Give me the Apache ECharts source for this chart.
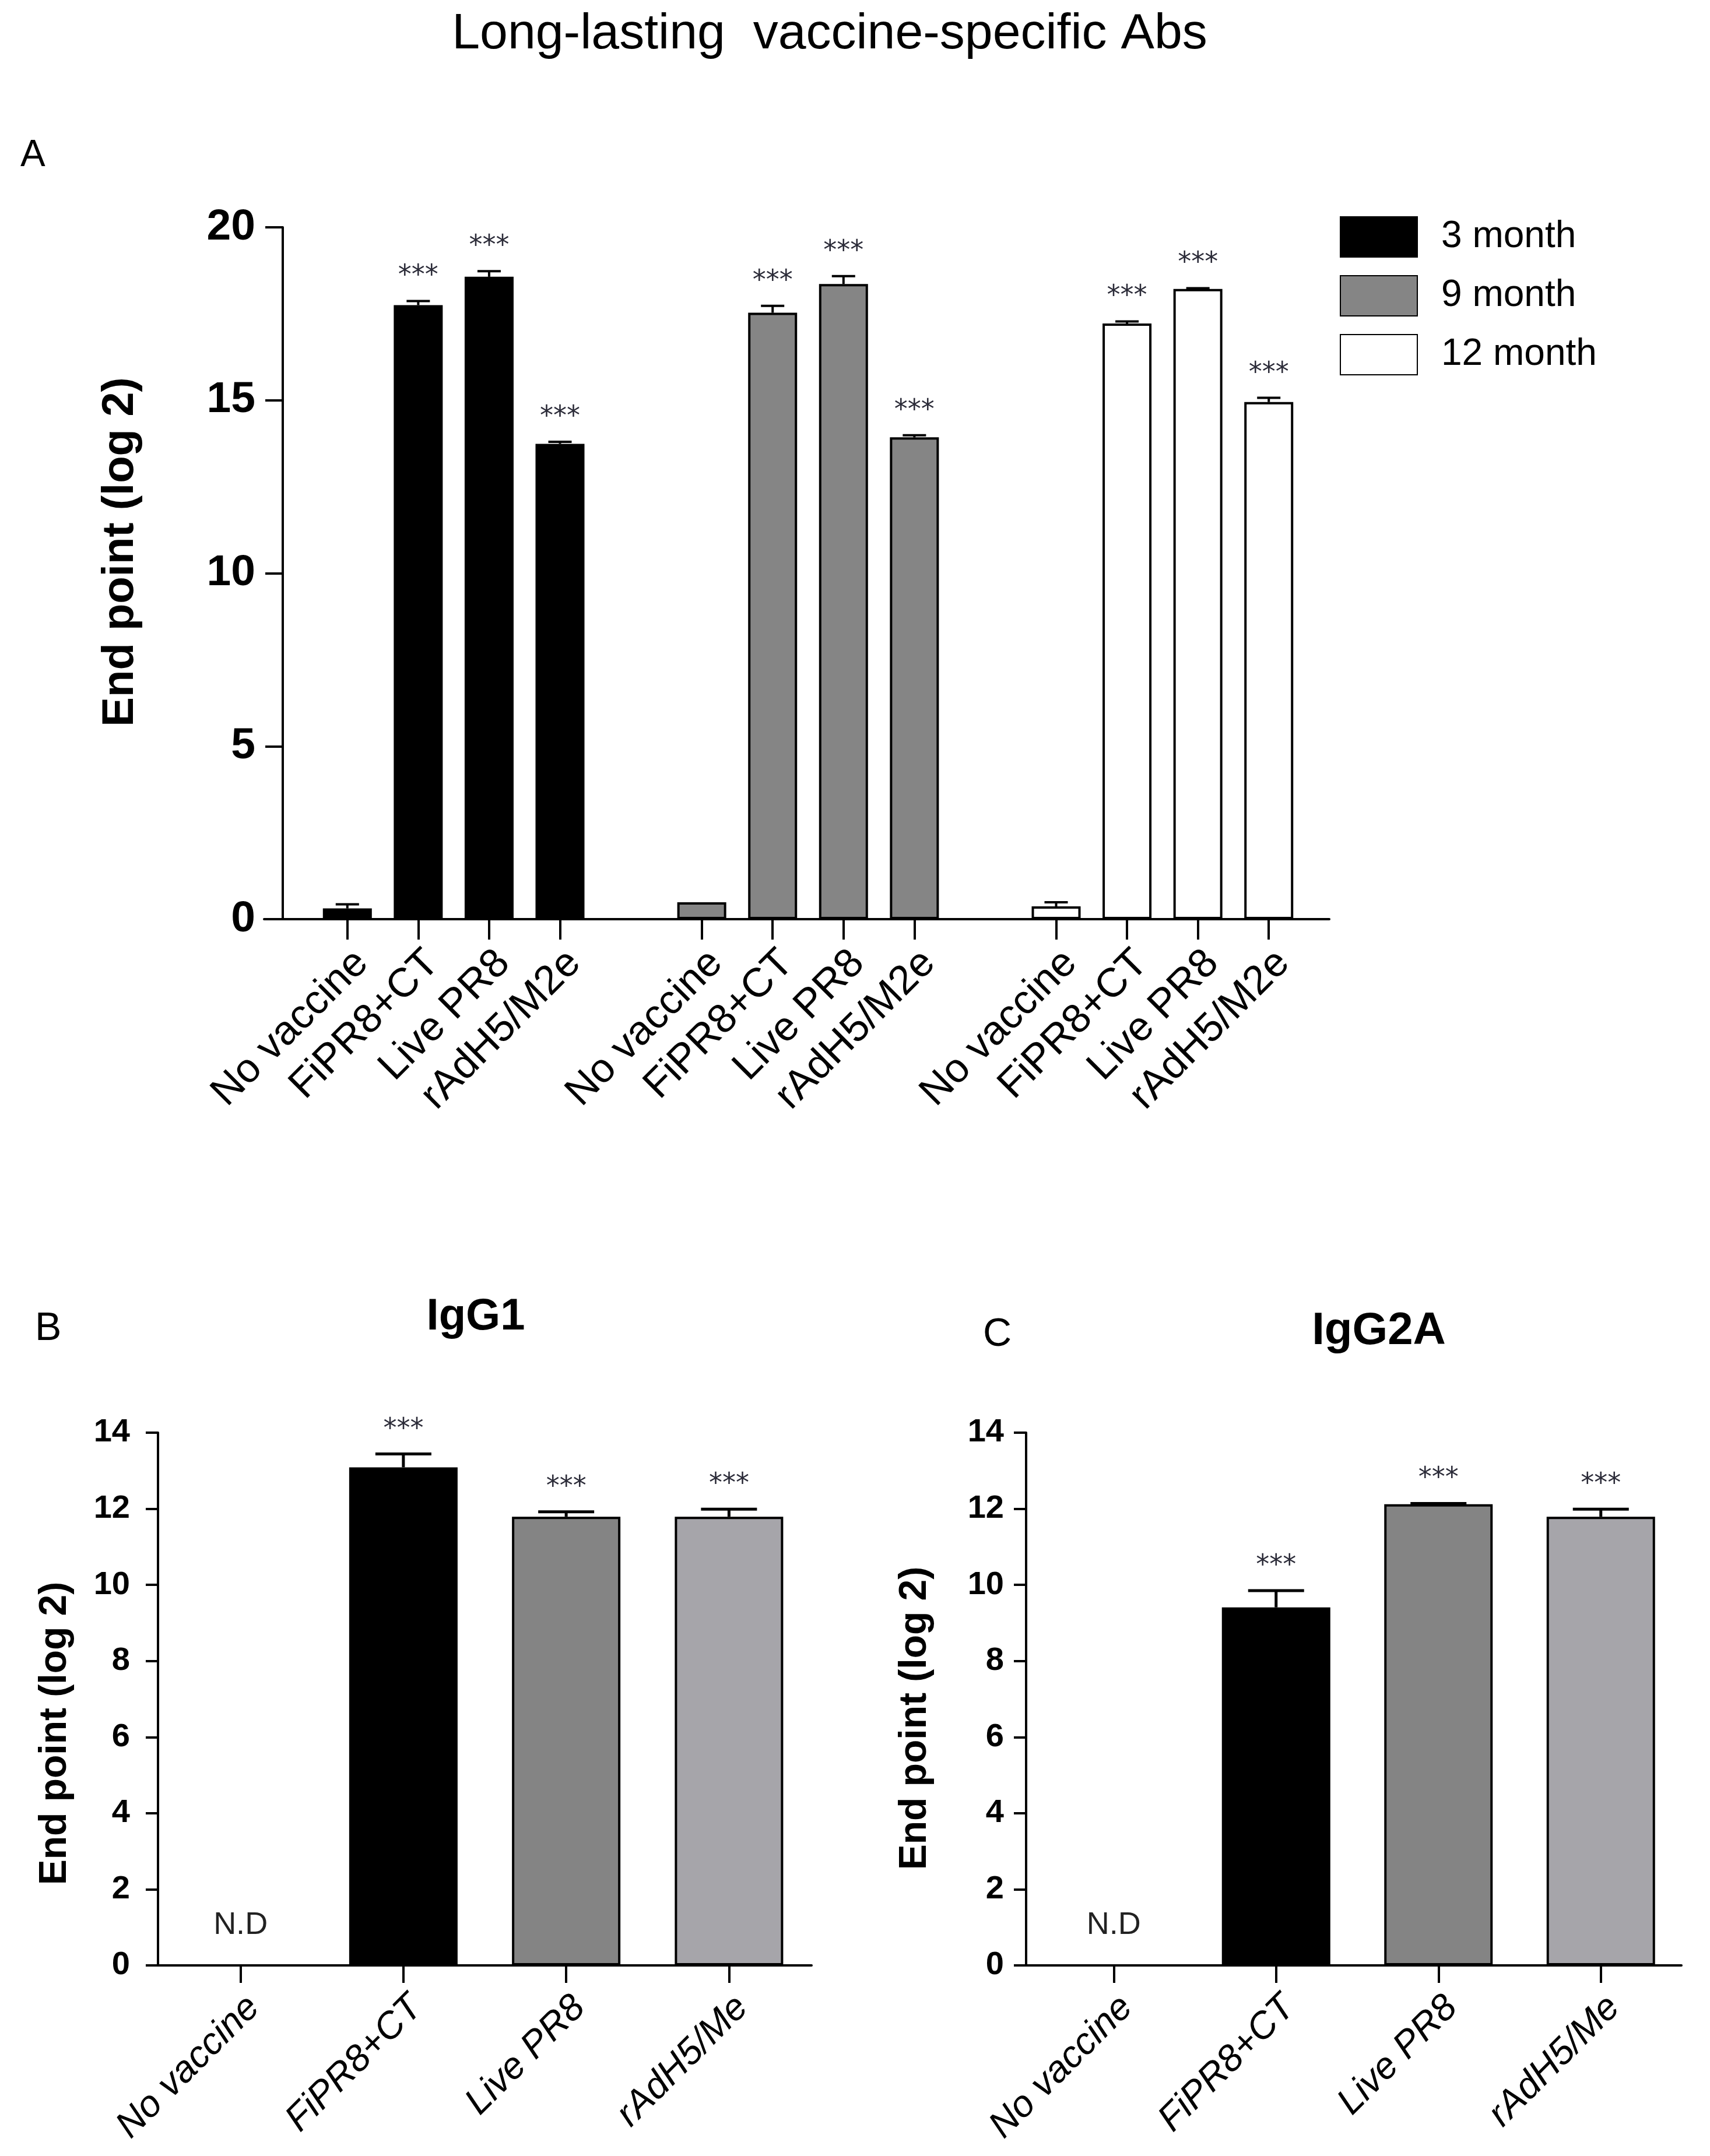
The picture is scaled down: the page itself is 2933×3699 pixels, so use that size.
<!DOCTYPE html>
<html>
<head>
<meta charset="utf-8">
<title>Long-lasting vaccine-specific Abs</title>
<script src="https://cdn.jsdelivr.net/npm/echarts/dist/echarts.min.js"></script>
<style>
  html, body { margin: 0; padding: 0; background: #fff; }
  #chart { width: 2933px; height: 3699px; }
</style>
</head>
<body>
<div id="chart"></div>
<script>
// panel A : end point titres at 3, 9 and 12 months
var groupNames = ['No vaccine', 'FiPR8+CT', 'Live PR8', 'rAdH5/M2e'];
var monthNames = ['3 month', '9 month', '12 month'];
var month3Mean = [0.31, 17.75, 18.57, 13.74];
var month3Upper = [0.43, 17.87, 18.73, 13.80];
var month9Mean = [0.49, 17.53, 18.36, 13.93];
var month9Upper = [0.49, 17.73, 18.59, 13.99];
var month12Mean = [0.37, 17.22, 18.22, 14.95];
var month12Upper = [0.49, 17.28, 18.24, 15.07];
var starsA = [false, true, true, true];
var ticksA = [0, 5, 10, 15, 20];

// panels B and C : IgG1 / IgG2A
var subNames = ['No vaccine', 'FiPR8+CT', 'Live PR8', 'rAdH5/Me'];
var igg1Mean = [0, 13.09, 11.79, 11.79];
var igg1Upper = [0, 13.44, 11.92, 11.99];
var igg2aMean = [0, 9.41, 12.12, 11.79];
var igg2aUpper = [0, 9.85, 12.14, 11.99];
var starsBC = [false, true, true, true];
var notDetected = [true, false, false, false];
var ticksBC = [0, 2, 4, 6, 8, 10, 12, 14];

var FONT = '"Liberation Sans", Arial, sans-serif';
var monthColors = ['#000000', '#858585', '#ffffff'];
var subColors = ['#000000', '#000000', '#848484', '#a6a5aa'];

// A uses one category axis with an empty slot between groups
var slot = groupNames.length + 1;
var catsA = [];
monthNames.forEach(function (m, g) {
  if (g > 0) catsA.push('');
  catsA = catsA.concat(groupNames);
});

function padGroup(values, g) {
  var out = catsA.map(function () { return '-'; });
  values.forEach(function (v, i) { out[g * slot + i] = v; });
  return out;
}

var errA = [];
[[month3Mean, month3Upper], [month9Mean, month9Upper], [month12Mean, month12Upper]].forEach(function (p, g) {
  p[0].forEach(function (v, i) {
    errA.push([g * slot + i, v, p[1][i], starsA[i] ? 1 : 0]);
  });
});

function errRows(mean, upper, stars) {
  return mean.map(function (v, i) { return [i, v, upper[i], stars[i] ? 1 : 0]; });
}

function errorBars(capHalf, width, starGap) {
  return function (params, api) {
    var x = api.value(0);
    var top = api.coord([x, api.value(1)]);
    var up = api.coord([x, api.value(2)]);
    var kids = [];
    if (up[1] < top[1] - 1) {
      kids.push({ type: 'line', shape: { x1: top[0], y1: top[1], x2: up[0], y2: up[1] },
        style: { stroke: '#000', lineWidth: width } });
      kids.push({ type: 'line', shape: { x1: up[0] - capHalf, y1: up[1], x2: up[0] + capHalf, y2: up[1] },
        style: { stroke: '#000', lineWidth: width } });
    }
    if (api.value(3)) {
      kids.push({ type: 'text', x: up[0], y: up[1] - starGap,
        style: { text: '***', fill: '#2b2b38', font: '46px "DejaVu Sans"', align: 'center', verticalAlign: 'middle' } });
    }
    return { type: 'group', children: kids };
  };
}

function valueAxis(grid, ticks, offset, tickLen, labelSize, margin) {
  return {
    type: 'value', gridIndex: grid, min: ticks[0], max: ticks[ticks.length - 1],
    interval: ticks[1] - ticks[0], offset: offset,
    axisLine: { show: true, lineStyle: { color: '#000', width: 4 } },
    axisTick: { show: true, length: tickLen, lineStyle: { color: '#000', width: 4 } },
    axisLabel: { color: '#000', fontFamily: FONT, fontWeight: 'bold', fontSize: labelSize, margin: margin },
    splitLine: { show: false }
  };
}

function hiddenY(grid) {
  return { type: 'value', gridIndex: grid, min: 0, max: 1, show: false };
}

function baseLine(grid) {
  return { type: 'value', gridIndex: grid, min: 0, max: 1,
    axisLine: { show: true, lineStyle: { color: '#000', width: 4 } },
    axisTick: { show: false }, axisLabel: { show: false }, splitLine: { show: false } };
}

function catAxis(grid, cats, italic, size, tickLen, margin) {
  return {
    type: 'category', gridIndex: grid, data: cats,
    axisLine: { show: false },
    axisTick: { show: true, alignWithLabel: true, length: tickLen, lineStyle: { color: '#000', width: 4 },
      interval: function (i, v) { return v !== ''; } },
    axisLabel: { interval: 0, rotate: 45, color: '#000', fontFamily: FONT, fontSize: size,
      fontStyle: italic ? 'italic' : 'normal', margin: margin, verticalAlign: 'top' }
  };
}

function subBars(mean, x) {
  return {
    type: 'bar', xAxisIndex: x, yAxisIndex: x, barWidth: 186,
    data: mean.map(function (v, i) {
      return {
        value: v,
        itemStyle: { color: subColors[i], borderColor: '#000', borderWidth: 4 },
        label: { show: notDetected[i], formatter: 'N.D', position: 'top', distance: 40,
          fontFamily: FONT, fontSize: 54, color: '#222' }
      };
    })
  };
}

var chart = echarts.init(document.getElementById('chart'));

chart.setOption({
  backgroundColor: '#fff',
  animation: false,
  grid: [
    { left: 535, right: 696, top: 390, bottom: 2122 },
    { left: 453, right: 653, top: 390, bottom: 2122 },
    { left: 273, right: 1543, top: 2458, bottom: 327 },
    { left: 256, right: 1541, top: 2458, bottom: 327 },
    { left: 1771, right: 48, top: 2458, bottom: 327 },
    { left: 1748, right: 49, top: 2458, bottom: 327 }
  ],
  xAxis: [
    catAxis(0, catsA, false, 70, 35, 40),
    baseLine(1),
    catAxis(2, subNames, true, 64, 30, 40),
    baseLine(3),
    catAxis(4, subNames, true, 64, 30, 40),
    baseLine(5)
  ],
  yAxis: [
    valueAxis(0, ticksA, 50, 30, 75, 47),
    hiddenY(1),
    valueAxis(2, ticksBC, 2, 21, 56, 48),
    hiddenY(3),
    valueAxis(4, ticksBC, 11, 21, 56, 38),
    hiddenY(5)
  ],
  legend: {
    data: monthNames, orient: 'vertical', left: 2298, top: 371, padding: 0,
    itemWidth: 132, itemHeight: 69, itemGap: 30, icon: 'rect', selectedMode: false,
    textStyle: { color: '#000', fontFamily: FONT, fontSize: 64, padding: [0, 0, 30, 36] }
  },
  graphic: [
    { type: 'text', x: 1423, y: 59, style: { text: 'Long-lasting  vaccine-specific Abs', font: '86px ' + FONT, fill: '#000', align: 'center', verticalAlign: 'middle' } },
    { type: 'text', x: 35, y: 267, style: { text: 'A', font: '64px ' + FONT, fill: '#000', align: 'left', verticalAlign: 'middle' } },
    { type: 'text', x: 60, y: 2280, style: { text: 'B', font: '68px ' + FONT, fill: '#000', align: 'left', verticalAlign: 'middle' } },
    { type: 'text', x: 1686, y: 2290, style: { text: 'C', font: '68px ' + FONT, fill: '#000', align: 'left', verticalAlign: 'middle' } },
    { type: 'text', x: 816, y: 2260, style: { text: 'IgG1', font: 'bold 76px ' + FONT, fill: '#000', align: 'center', verticalAlign: 'middle' } },
    { type: 'text', x: 2365, y: 2284, style: { text: 'IgG2A', font: 'bold 78px ' + FONT, fill: '#000', align: 'center', verticalAlign: 'middle' } },
    { type: 'text', x: 207, y: 947, rotation: Math.PI / 2, style: { text: 'End point (log 2)', font: 'bold 76px ' + FONT, fill: '#000', align: 'center', verticalAlign: 'middle' } },
    { type: 'text', x: 95, y: 2974, rotation: Math.PI / 2, style: { text: 'End point (log 2)', font: 'bold 66px ' + FONT, fill: '#000', align: 'center', verticalAlign: 'middle' } },
    { type: 'text', x: 1570, y: 2948, rotation: Math.PI / 2, style: { text: 'End point (log 2)', font: 'bold 66px ' + FONT, fill: '#000', align: 'center', verticalAlign: 'middle' } }
  ],
  series: [
    { type: 'bar', name: monthNames[0], xAxisIndex: 0, yAxisIndex: 0, data: padGroup(month3Mean, 0),
      barWidth: 84, barGap: '-100%', itemStyle: { color: monthColors[0], borderColor: '#000', borderWidth: 4 } },
    { type: 'bar', name: monthNames[1], xAxisIndex: 0, yAxisIndex: 0, data: padGroup(month9Mean, 1),
      barWidth: 84, barGap: '-100%', itemStyle: { color: monthColors[1], borderColor: '#000', borderWidth: 4 } },
    { type: 'bar', name: monthNames[2], xAxisIndex: 0, yAxisIndex: 0, data: padGroup(month12Mean, 2),
      barWidth: 84, barGap: '-100%', itemStyle: { color: monthColors[2], borderColor: '#000', borderWidth: 4 } },
    { type: 'custom', xAxisIndex: 0, yAxisIndex: 0, z: 5, data: errA,
      encode: { x: 0, y: [1, 2] }, renderItem: errorBars(20, 4, 42) },
    subBars(igg1Mean, 2),
    { type: 'custom', xAxisIndex: 2, yAxisIndex: 2, z: 5, data: errRows(igg1Mean, igg1Upper, starsBC),
      encode: { x: 0, y: [1, 2] }, renderItem: errorBars(48, 5, 42) },
    subBars(igg2aMean, 4),
    { type: 'custom', xAxisIndex: 4, yAxisIndex: 4, z: 5, data: errRows(igg2aMean, igg2aUpper, starsBC),
      encode: { x: 0, y: [1, 2] }, renderItem: errorBars(48, 5, 42) }
  ]
});
</script>
</body>
</html>
